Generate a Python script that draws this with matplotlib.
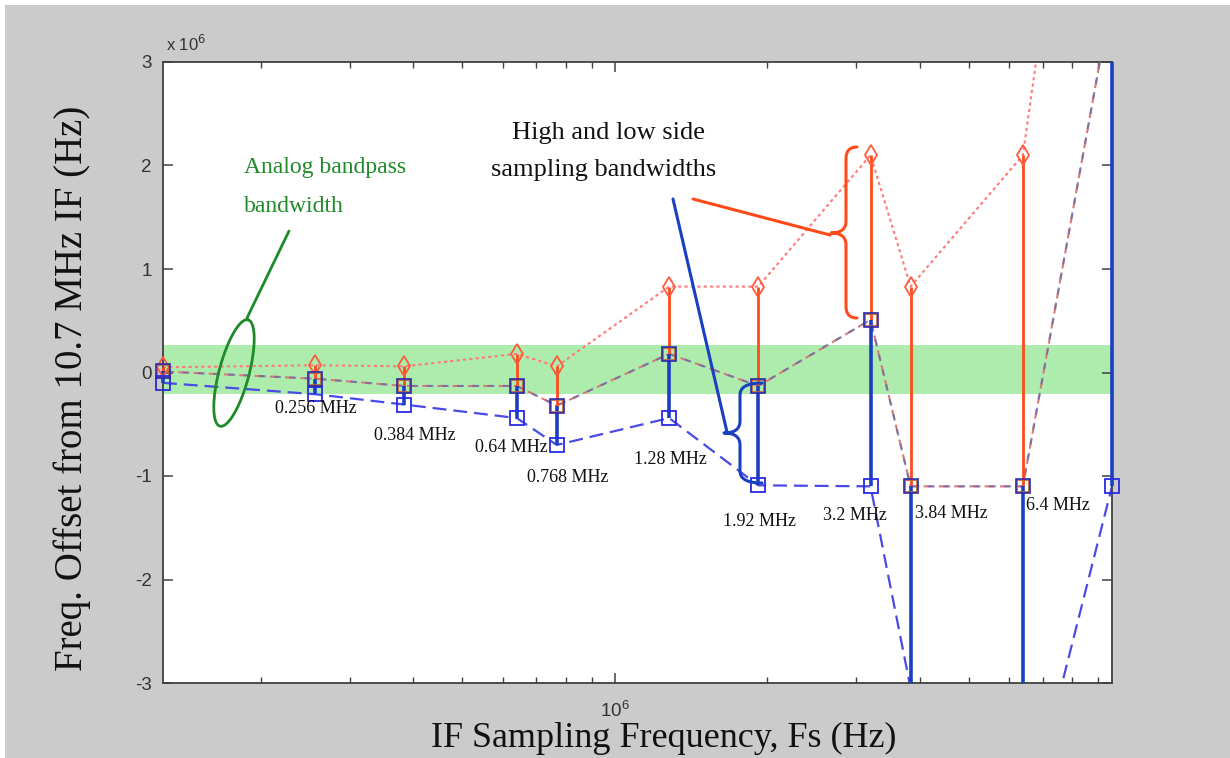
import numpy as np
import matplotlib
matplotlib.use("Agg")
import matplotlib.pyplot as plt
from matplotlib.lines import Line2D
from matplotlib.patches import Rectangle
from matplotlib.ticker import FixedLocator, FuncFormatter, LogLocator, NullFormatter

# ---------------- data (MHz) ----------------
fs_mhz = [0.128, 0.256, 0.384, 0.64, 0.768, 1.28, 1.92, 3.2, 3.84, 6.4, 9.6]
upper_mhz = [0.05, 0.07, 0.06, 0.18, 0.06, 0.83, 0.83, 2.10, 0.83, 2.10, 8.2]
middle_mhz = [0.01, -0.06, -0.13, -0.13, -0.32, 0.18, -0.13, 0.51, -1.10, -1.10, 3.65]
lower_mhz = [-0.10, -0.21, -0.31, -0.44, -0.70, -0.44, -1.09, -1.10, -3.05, -4.5, -1.10]
band_mhz = [-0.21, 0.27]
fs_labels = ["0.256 MHz", "0.384 MHz", "0.64 MHz", "0.768 MHz", "1.28 MHz",
             "1.92 MHz", "3.2 MHz", "3.84 MHz", "6.4 MHz"]
yticks = [-3, -2, -1, 0, 1, 2, 3]
ylim = [-3, 3]
xlim_mhz = [0.128, 9.6]

plt.rcParams['lines.scale_dashes'] = False
SERIF = ['Liberation Serif', 'DejaVu Serif']
SANS = ['Liberation Sans', 'DejaVu Sans']

W, H = 1230, 758
fig = plt.figure(figsize=(W / 100, H / 100), dpi=100, facecolor='white')
fig.patches.append(Rectangle((5 / W, 0), 1, 1 - 5 / H, transform=fig.transFigure,
                             facecolor='#cbcbcb', edgecolor='none', zorder=-10))


def P(x, y):
    return x / W, 1 - y / H


L, R, T, B = 163, 1112, 62, 683
ax = fig.add_axes([L / W, 1 - B / H, (R - L) / W, (B - T) / H])
ax.set_facecolor('white')
ax.set_xscale('log')

fs = np.array(fs_mhz) * 1e6
up = np.array(upper_mhz) * 1e6
mid = np.array(middle_mhz) * 1e6
lo = np.array(lower_mhz) * 1e6
ymin, ymax = ylim[0] * 1e6, ylim[1] * 1e6

ax.axhspan(band_mhz[0] * 1e6, band_mhz[1] * 1e6, color='#aeecae', zorder=0.5, lw=0)

# stems (limited to the visible y-range so they can overlap the frame)
ax.vlines(fs, np.clip(mid, ymin, ymax), np.clip(up, ymin, ymax),
          color='#ff4a1a', lw=2.0, zorder=3, clip_on=False)
ax.vlines(fs, np.clip(lo, ymin, ymax), np.clip(mid, ymin, ymax),
          color='#1a3fc0', lw=2.6, zorder=3.2, clip_on=False)

# upper (red dotted)
l1, = ax.plot(fs, up, color='#ff7a7a', lw=1.5, zorder=2.5)
l1.set_dashes((2.3, 2.3))
# lower (blue long dashes)
l2, = ax.plot(fs, lo, color='#4a4ae6', lw=1.6, zorder=2.5)
l2.set_dashes((10, 5))
# middle: overlapping red and blue dashes
l3, = ax.plot(fs, mid, color='#d87a78', lw=1.5, zorder=2.6)
l3.set_dashes((7, 4))
l4, = ax.plot(fs, mid, color='#6a6aa8', lw=1.5, zorder=2.7, alpha=0.75)
l4.set_dashes((0, 3, 5, 3))


# markers (only within the visible range)
def vis(v):
    return np.where((v >= ymin) & (v <= ymax), v, np.nan)


ax.plot(fs, vis(up), ls='none', marker='d', ms=10, mfc='none', mec='#ff5a3a',
        mew=1.3, zorder=4, clip_on=False)
ax.plot(fs, vis(mid), ls='none', marker='s', ms=8.5, mfc='none', mec='#c06030',
        mew=1.2, zorder=4, clip_on=False)
ax.plot(fs, vis(mid), ls='none', marker='s', ms=9.5, mfc='none', mec='#2a2ab0',
        mew=1.2, zorder=4.1, clip_on=False)
ax.plot(fs, vis(lo), ls='none', marker='s', ms=9.5, mfc='none', mec='#2a2ae6',
        mew=1.3, zorder=4, clip_on=False)

ax.set_xlim(xlim_mhz[0] * 1e6, xlim_mhz[1] * 1e6)
ax.set_ylim(ymin, ymax)
ax.yaxis.set_major_locator(FixedLocator([v * 1e6 for v in yticks]))
ax.yaxis.set_major_formatter(FuncFormatter(lambda v, _: f"{v / 1e6:g}"))
ax.xaxis.set_major_locator(LogLocator(base=10, numticks=10))
ax.xaxis.set_minor_locator(LogLocator(base=10, subs=np.arange(2, 10), numticks=20))
ax.xaxis.set_minor_formatter(NullFormatter())
ax.tick_params(which='both', direction='in', top=True, right=True,
               color='#404040', labelcolor='#333333')
ax.tick_params(which='major', length=7, width=1.1, labelsize=13.5, pad=8)
ax.tick_params(axis='x', which='major', pad=13)
ax.tick_params(which='minor', length=4.5, width=1.0)
for lab in ax.get_xticklabels() + ax.get_yticklabels():
    lab.set_fontfamily(SANS)
for s in ax.spines.values():
    s.set_color('#404040')
    s.set_linewidth(1.3)

fig.text(*P(166, 44), r'x 10$^{6}$', fontsize=12, family=SANS, color='#333333',
         ha='left', va='center')

# axis labels
fig.text(*P(72, 388), 'Freq. Offset from 10.7 MHz IF (Hz)', rotation=90,
         fontsize=28, family=SERIF, ha='center', va='center', color='#111111')
fig.text(*P(664, 738), 'IF Sampling Frequency, Fs (Hz)', fontsize=26,
         family=SERIF, ha='center', va='center', color='#111111')

# frequency labels (pixel layout)
label_pos = [(275, 408), (374, 436), (475, 447), (527, 478), (634, 460),
             (723, 521), (823, 516), (915, 513), (1026, 505)]
for txt, (px, py) in zip(fs_labels, label_pos):
    fig.text(*P(px, py), txt, fontsize=13, family=SERIF, ha='left', va='center',
             color='#111111', zorder=6)

# annotations
fig.text(*P(244, 168), 'Analog bandpass', fontsize=17, family=SERIF,
         color='#1e8a28', ha='left', va='center')
fig.text(*P(244, 207), 'bandwidth', fontsize=17, family=SERIF,
         color='#1e8a28', ha='left', va='center')
fig.text(*P(609, 133), 'High and low side', fontsize=19, family=SERIF,
         color='#111111', ha='center', va='center')
fig.text(*P(604, 170), 'sampling bandwidths', fontsize=19, family=SERIF,
         color='#111111', ha='center', va='center')


def figline(xs, ys, color, lw):
    xs = np.asarray(xs, float)
    ys = np.asarray(ys, float)
    fig.add_artist(Line2D(xs / W, 1 - ys / H, color=color, lw=lw,
                          transform=fig.transFigure, zorder=7,
                          solid_capstyle='round'))


def quad(p0, c, p1, n=12):
    t = np.linspace(0, 1, n)[:, None]
    p0, c, p1 = map(np.array, (p0, c, p1))
    return (1 - t) ** 2 * p0 + 2 * (1 - t) * t * c + t ** 2 * p1


def brace(x_tip, y_top, y_bot, x_sp, x_pt, y_mid, r=12):
    pts = [quad((x_tip, y_top), (x_sp, y_top), (x_sp, y_top + r)),
           quad((x_sp, y_mid - r), (x_sp, y_mid), (x_pt, y_mid)),
           quad((x_pt, y_mid), (x_sp, y_mid), (x_sp, y_mid + r)),
           quad((x_sp, y_bot - r), (x_sp, y_bot), (x_tip, y_bot))]
    arr = np.vstack(pts)
    return arr[:, 0], arr[:, 1]


# red brace + pointer
bx, by = brace(857, 147, 318, 846, 831, 233)
figline(bx, by, '#ff4a1a', 2.2)
figline([693, 830], [199, 235], '#ff4a1a', 2.2)
# blue brace + pointer
bx, by = brace(762, 383, 483, 740, 724, 433)
figline(bx, by, '#1a3fc0', 2.2)
figline([673, 727], [199, 432], '#1a3fc0', 2.2)

# green ellipse + pointer
c = np.array([234.0, 373.0])
u = np.array([28.0, -106.0])
u /= np.linalg.norm(u)
v = np.array([-u[1], u[0]])
t = np.linspace(0, 2 * np.pi, 120)
ell = c + 55 * np.cos(t)[:, None] * u + 15 * np.sin(t)[:, None] * v
figline(ell[:, 0], ell[:, 1], '#1e8a28', 2.0)
figline([247, 289], [318, 231], '#1e8a28', 2.0)

fig.savefig('out.png', dpi=100, facecolor=fig.get_facecolor())
